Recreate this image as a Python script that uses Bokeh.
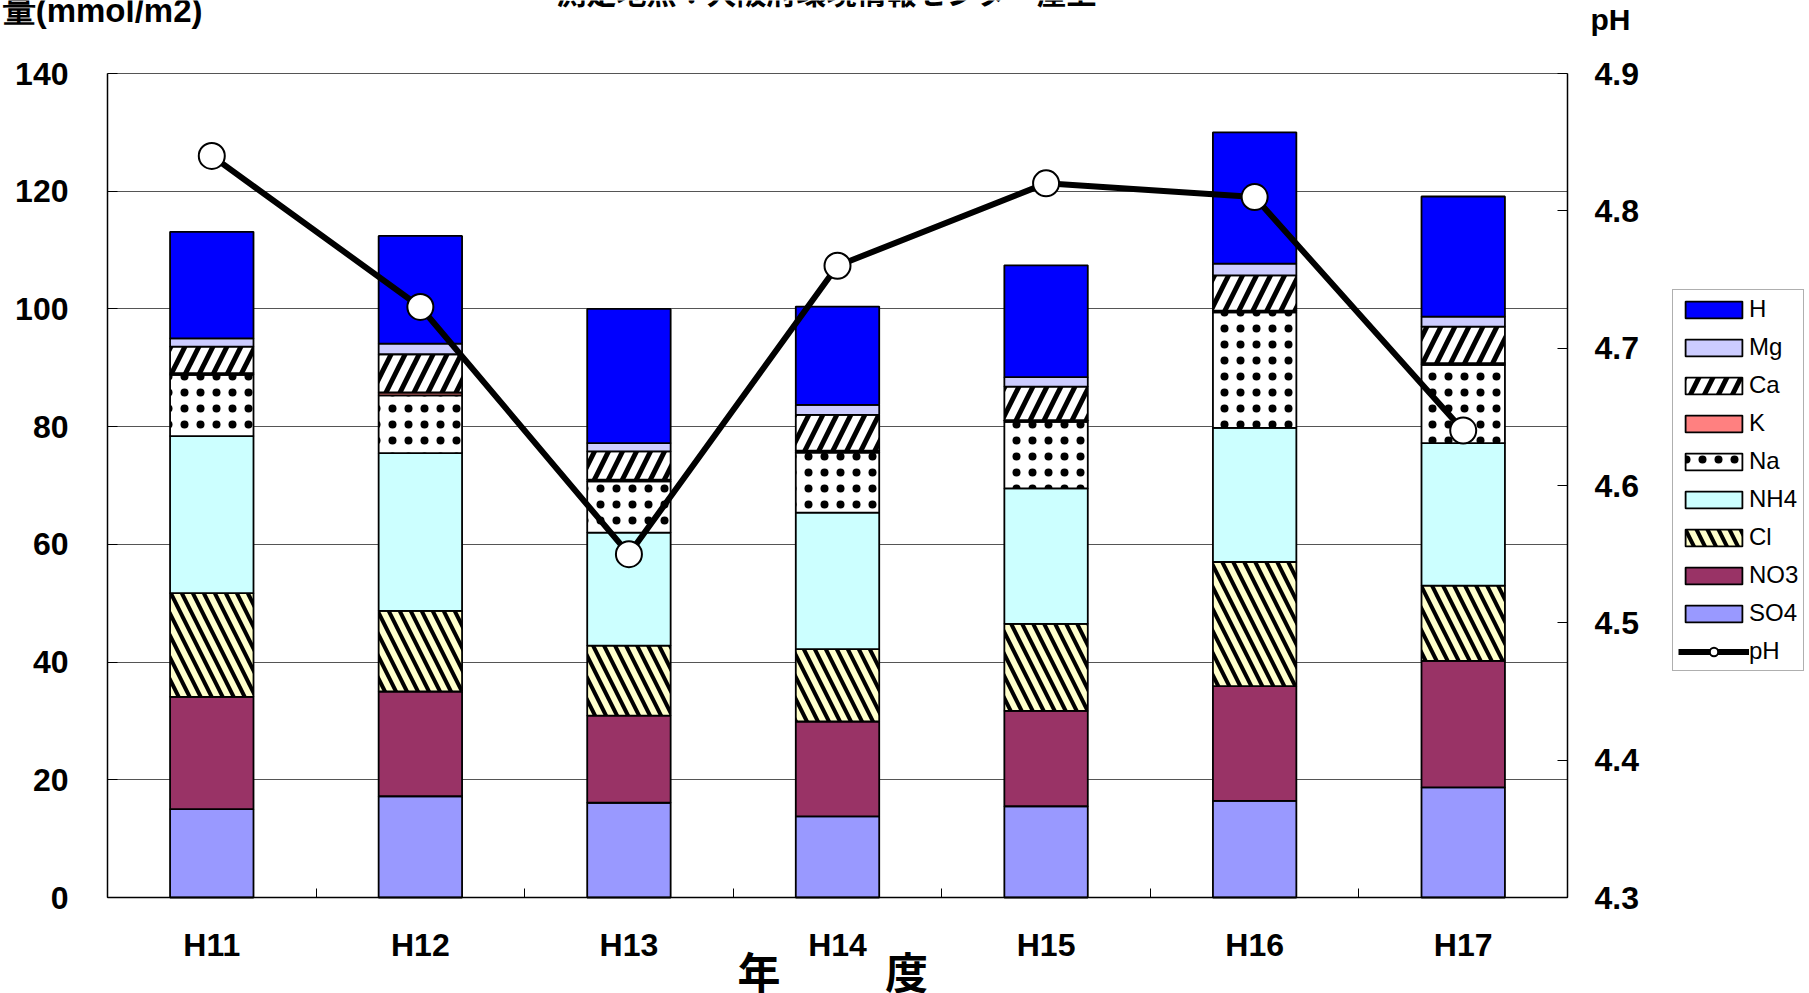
from bokeh.plotting import figure
from bokeh.models import (Range1d, LinearAxis, FixedTicker, Label, Legend, LegendItem,
                          NumeralTickFormatter, ColumnDataSource, Grid)
from bokeh.embed import file_html
from bokeh.resources import INLINE

# ---------------- data ----------------
years = ["H11", "H12", "H13", "H14", "H15", "H16", "H17"]
SO4 = [15.0, 17.2, 16.1, 13.8, 15.5, 16.4, 18.7]
NO3 = [19.1, 17.8, 14.8, 16.1, 16.2, 19.5, 21.5]
Cl = [17.6, 13.7, 11.9, 12.3, 14.8, 21.1, 12.8]
NH4 = [26.7, 26.8, 19.2, 23.2, 23.0, 22.8, 24.2]
Na = [10.4, 9.8, 8.7, 10.2, 11.3, 19.6, 13.3]
K = [0.3, 0.5, 0.3, 0.3, 0.3, 0.3, 0.3]
Ca = [4.5, 6.5, 4.8, 6.1, 5.7, 6.0, 6.2]
Mg = [1.4, 1.8, 1.4, 1.7, 1.6, 2.0, 1.7]
H = [18.1, 18.3, 22.8, 16.7, 19.0, 22.3, 20.4]
pH = [4.84, 4.73, 4.55, 4.76, 4.82, 4.81, 4.64]

left_ticks = [0, 20, 40, 60, 80, 100, 120, 140]
ph_ticks = [4.3, 4.4, 4.5, 4.6, 4.7, 4.8, 4.9]
y_min, y_max = 0, 140
ph_min, ph_max = 4.3, 4.9

title_text = "測定地点：大阪府環境情報センター屋上"
ylabel_text = "量(mmol/m2)"
ph_label_text = "pH"
xlabel_chars = ["年", "度"]

stack_names = ["SO4", "NO3", "Cl", "NH4", "Na", "K", "Ca", "Mg", "H"]
stack_colors = ["#9999FF", "#993366", "#FFFFCC", "#CCFFFF", "#FFFFFF",
                "#FF8080", "#FFFFFF", "#CCCCFF", "#0000FF"]
stack_hatch = [" ", " ", "left_diagonal_line", " ", "dot", " ",
               "right_diagonal_line", " ", " "]
stack_hatch_scale = [12, 12, 22, 12, 16, 12, 28, 12, 12]
stack_hatch_weight = [1, 1, 4, 1, 12, 1, 5, 1, 1]

# ---------------- layout (pixels inside the figure canvas) ----------------
W, Hh = 1809, 993
frame_left, frame_top, frame_right, frame_bottom = 107, 73, 1567, 897
n = len(years)
px_x = (frame_right - frame_left) / n
px_y = (frame_bottom - frame_top) / (y_max - y_min)
x_start = -frame_left / px_x
x_end = n + (W - frame_right) / px_x
y_end = y_max + frame_top / px_y
y_start = y_min - (Hh - frame_bottom) / px_y
ph_scale = (ph_max - ph_min) / (y_max - y_min)


def fx(px):
    return (px - frame_left) / px_x


def fy(py):
    return (frame_bottom - py) / px_y


# ---------------- build ----------------
xc = [i + 0.5 for i in range(n)]
src = ColumnDataSource(dict(x=xc, SO4=SO4, NO3=NO3, Cl=Cl, NH4=NH4, Na=Na, K=K,
                            Ca=Ca, Mg=Mg, H=H, pH=pH))

p = figure(width=W, height=Hh, output_backend="svg", toolbar_location=None,
           x_range=Range1d(x_start, x_end), y_range=Range1d(y_start, y_end),
           min_border=0, min_border_left=0, min_border_top=0,
           min_border_right=0, min_border_bottom=0,
           x_axis_location=None, y_axis_location=None)
p.background_fill_color = "white"
p.border_fill_color = "white"
p.outline_line_color = None

p.extra_y_ranges = {"ph": Range1d(ph_min + (y_start - y_min) * ph_scale,
                                  ph_min + (y_end - y_min) * ph_scale)}

# grid lines limited to the plot area
p.xgrid.visible = False
p.ygrid.ticker = FixedTicker(ticks=left_ticks)
p.ygrid.grid_line_color = "#555555"
p.ygrid.grid_line_width = 1
if "cross_bounds" in Grid.properties():
    p.ygrid.cross_bounds = (0, n)
else:
    p.ygrid.visible = False
    p.segment(x0=[0] * len(left_ticks), x1=[n] * len(left_ticks), y0=left_ticks,
              y1=left_ticks, line_color="#555555", line_width=1, level="underlay")

bars = p.vbar_stack(stack_names, x="x", width=0.4, source=src,
                    fill_color=stack_colors, line_color="black", line_width=1.8,
                    hatch_pattern=stack_hatch, hatch_color="black",
                    hatch_scale=stack_hatch_scale, hatch_weight=stack_hatch_weight)

ph_line = p.line("x", "pH", source=src, y_range_name="ph", line_color="black", line_width=6)
ph_pts = p.scatter("x", "pH", source=src, y_range_name="ph", size=26, marker="circle",
                   fill_color="white", line_color="black", line_width=2)

tick_font = "Liberation Sans"


def style_axis(ax, standoff):
    ax.major_label_text_font = tick_font
    ax.major_label_text_font_style = "bold"
    ax.major_label_text_font_size = "32px"
    ax.major_label_text_color = "black"
    ax.major_label_standoff = standoff
    ax.axis_line_color = "black"
    ax.axis_line_width = 1.5
    ax.major_tick_line_color = "black"
    ax.minor_tick_line_color = "black"


# left axis
ax_l = LinearAxis(ticker=FixedTicker(ticks=left_ticks), fixed_location=0,
                  bounds=(y_min, y_max))
style_axis(ax_l, 39)
ax_l.major_tick_in = 10
ax_l.major_tick_out = 0
ax_l.minor_tick_in = 0
ax_l.minor_tick_out = 0
p.add_layout(ax_l, "left")

# right axis
ax_r = LinearAxis(y_range_name="ph", ticker=FixedTicker(ticks=ph_ticks),
                  formatter=NumeralTickFormatter(format="0.0"), fixed_location=n,
                  bounds=(ph_min, ph_max))
style_axis(ax_r, 27)
ax_r.major_tick_in = 10
ax_r.major_tick_out = 0
ax_r.minor_tick_in = 0
ax_r.minor_tick_out = 0
p.add_layout(ax_r, "right")

# bottom axis
ax_b = LinearAxis(ticker=FixedTicker(ticks=xc, minor_ticks=list(range(n + 1))),
                  fixed_location=y_min, bounds=(0, n))
ax_b.major_label_overrides = {xv: lab for xv, lab in zip(xc, years)}
style_axis(ax_b, 29)
ax_b.major_tick_in = 0
ax_b.major_tick_out = 0
ax_b.minor_tick_in = 9
ax_b.minor_tick_out = 0
p.add_layout(ax_b, "below")

# texts
p.add_layout(Label(x=fx(826), y=fy(-10), text=title_text, text_font="Noto Sans CJK JP",
                   text_font_style="bold", text_font_size="30px", text_align="center",
                   text_baseline="alphabetic", text_color="black"))
p.add_layout(Label(x=fx(202), y=fy(10), text=ylabel_text, text_font="Liberation Sans",
                   text_font_style="bold", text_font_size="33px", text_align="right",
                   text_baseline="alphabetic", text_color="black"))
p.add_layout(Label(x=fx(1590), y=fy(19), text=ph_label_text, text_font="Liberation Sans",
                   text_font_style="bold", text_font_size="30px", text_align="left",
                   text_baseline="alphabetic", text_color="black"))
for cxp, ch in zip([758.5, 906], xlabel_chars):
    p.add_layout(Label(x=fx(cxp), y=fy(969), text=ch, text_font="Noto Sans CJK JP",
                       text_font_style="bold", text_font_size="43px", text_align="center",
                       text_baseline="middle", text_color="black"))

# legend
rmap = dict(zip(stack_names, bars))
leg_order = ["H", "Mg", "Ca", "K", "Na", "NH4", "Cl", "NO3", "SO4"]
items = [LegendItem(label=nm, renderers=[rmap[nm]]) for nm in leg_order]
items.append(LegendItem(label="pH", renderers=[ph_line, ph_pts]))
legend = Legend(items=items, location=(1672, Hh - 671))
legend.border_line_color = "#606060"
legend.border_line_width = 1.5
legend.background_fill_color = "white"
legend.background_fill_alpha = 1
legend.label_text_font = "Liberation Sans"
legend.label_text_font_size = "24px"
legend.label_text_color = "black"
legend.glyph_width = 71
legend.glyph_height = 21
legend.label_height = 20
legend.spacing = 10
legend.padding = 5
legend.margin = 0
legend.label_standoff = 0
p.add_layout(legend, "center")

open("out.html", "w").write(file_html(p, INLINE))
